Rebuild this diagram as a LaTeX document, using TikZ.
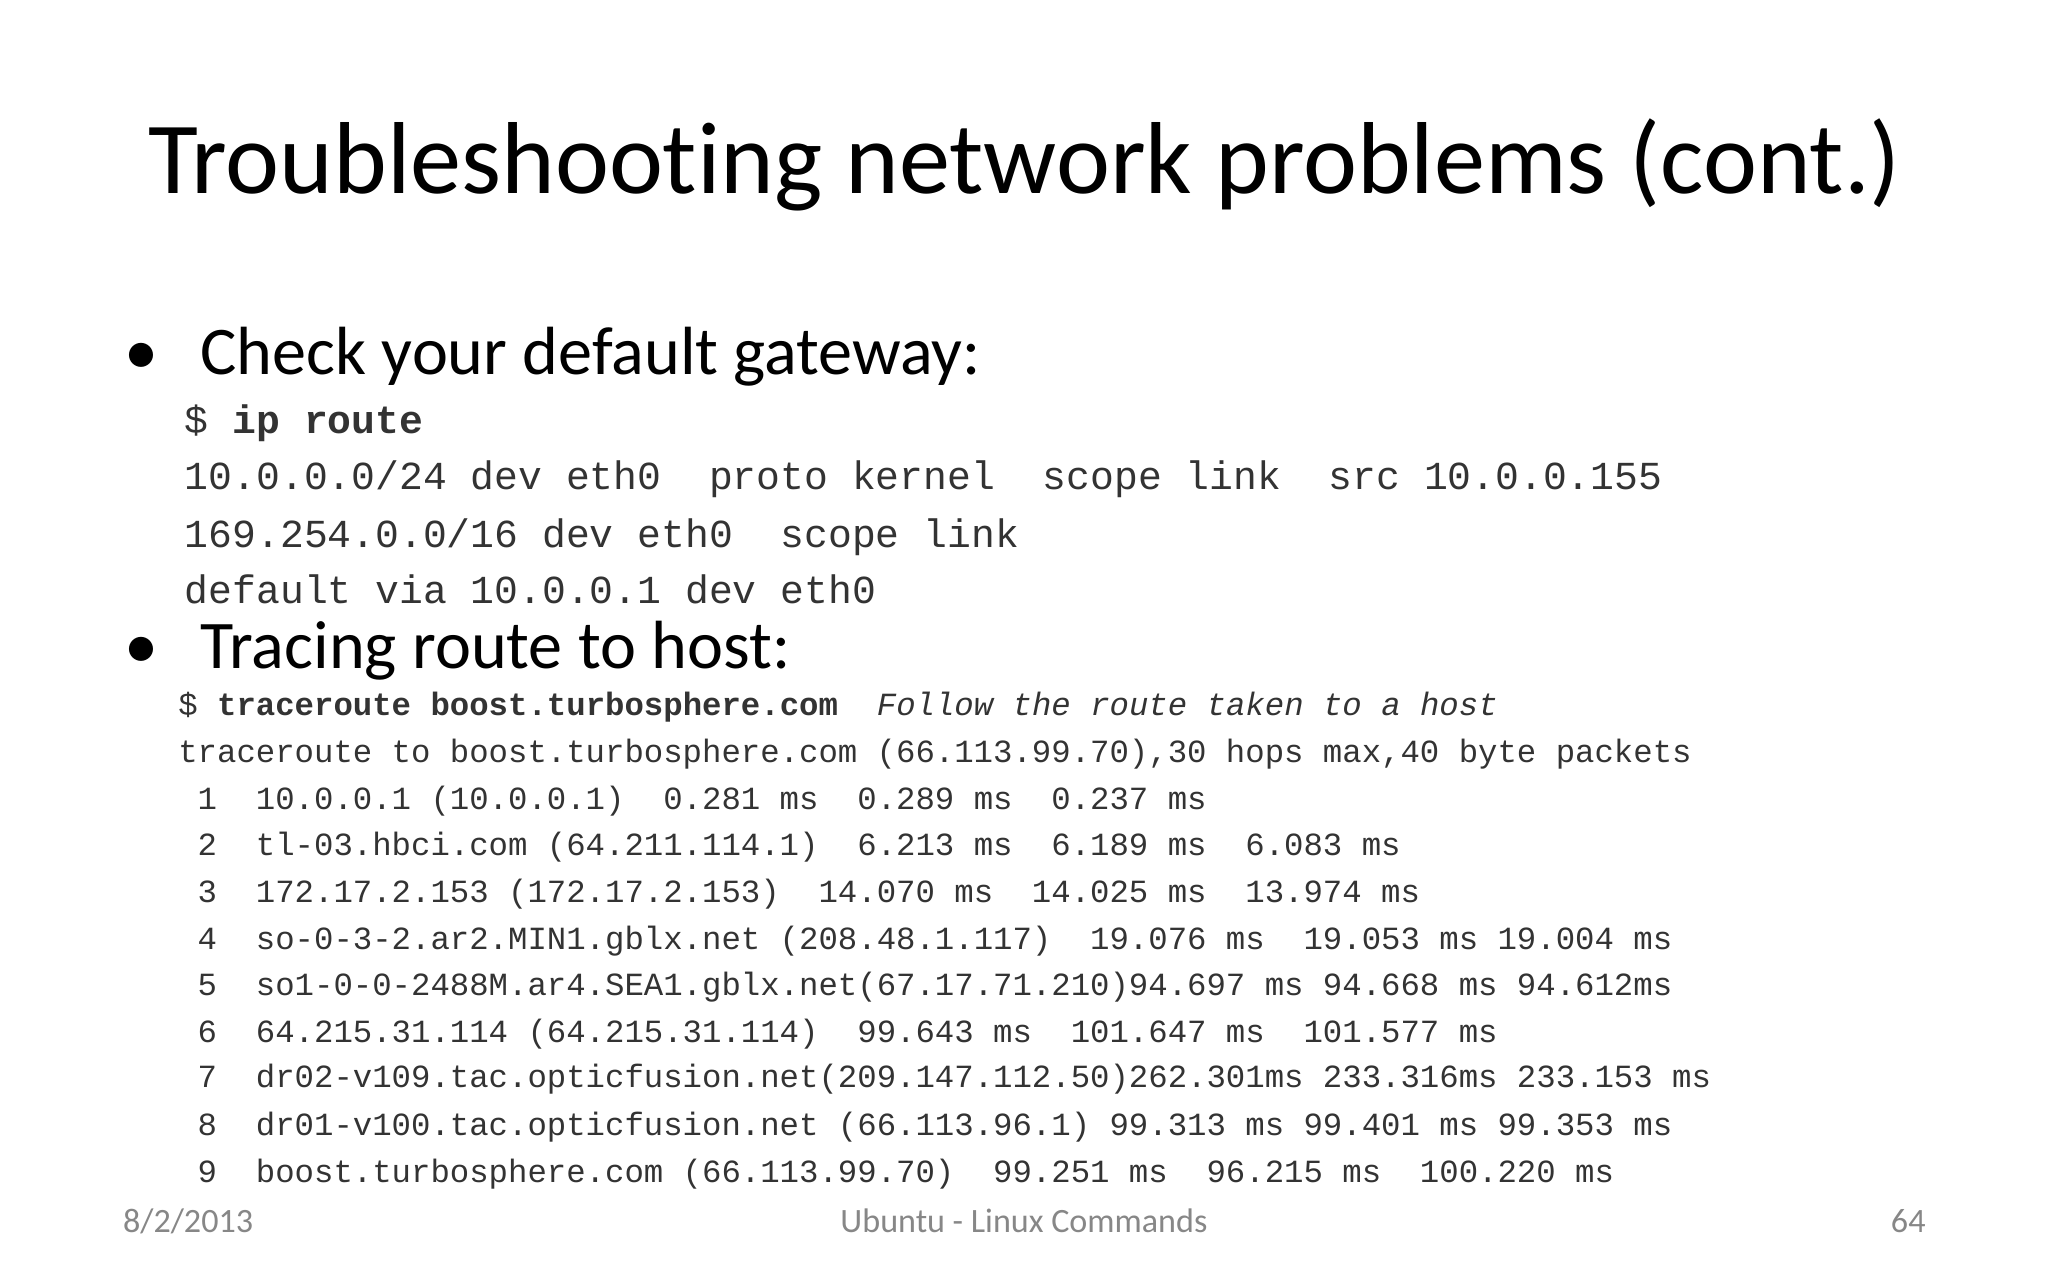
\documentclass[tikz,border=0pt]{standalone}
\usepackage{fontspec}
\setmainfont[Ligatures=NoCommon]{Carlito}
\setmonofont{Liberation Mono}
\begin{document}
\begin{tikzpicture}[x=0.013061cm,y=-0.013061cm,
  tl/.style={anchor=base west,inner sep=0pt},
  code/.style={tl,font=\ttfamily\fontsize{11.3}{12}\selectfont,text=black!80},
  tr/.style={tl,font=\ttfamily\fontsize{9.2}{10}\selectfont,text=black!80},
  bul/.style={tl,font=\fontsize{19.4}{21}\selectfont},
  foot/.style={inner sep=0pt,anchor=base,font=\fontsize{9.7}{12}\selectfont,text=black!47}]
\useasboundingbox[fill=white] (0,0) rectangle (1568,980);
\node[tl,font=\fontsize{29.1}{32}\selectfont] (title) at (113,148) {Troubleshooting network problems (cont.)};
\node[bul] (d1) at (95,287) {\textbullet};
\node[bul] (b1) at (153,287) {Check your default gateway:};
\node[code] (c0) at (141,332) {\$ \textbf{ip route}};
\node[code] (c1) at (141,375) {10.0.0.0/24 dev eth0~ proto kernel~ scope link~ src 10.0.0.155};
\node[code] (c2) at (141,419) {169.254.0.0/16 dev eth0~ scope link};
\node[code] (c3) at (141,462) {default via 10.0.0.1 dev eth0};
\node[bul] (d2) at (95,512) {\textbullet};
\node[bul] (b2) at (153,512) {Tracing route to host:};
\node[tr] (t0) at (136,548) {\$ \textbf{traceroute boost.turbosphere.com}~ \textit{Follow the route taken to a host}};
\node[tr] (t1) at (136,584) {traceroute to boost.turbosphere.com (66.113.99.70),30 hops max,40 byte packets};
\node[tr] (r1) at (136,620) {~1~~10.0.0.1 (10.0.0.1)~~0.281 ms~~0.289 ms~~0.237 ms};
\node[tr] (r2) at (136,655) {~2~~tl-03.hbci.com (64.211.114.1)~~6.213 ms~~6.189 ms~~6.083 ms};
\node[tr] (r3) at (136,691) {~3~~172.17.2.153 (172.17.2.153)~~14.070 ms~~14.025 ms~~13.974 ms};
\node[tr] (r4) at (136,727) {~4~~so-0-3-2.ar2.MIN1.gblx.net (208.48.1.117)~~19.076 ms~~19.053 ms 19.004 ms};
\node[tr] (r5) at (136,762) {~5~~so1-0-0-2488M.ar4.SEA1.gblx.net(67.17.71.210)94.697 ms 94.668 ms 94.612ms};
\node[tr] (r6) at (136,798) {~6~~64.215.31.114 (64.215.31.114)~~99.643 ms~~101.647 ms~~101.577 ms};
\node[tr] (r7) at (136,833) {~7~~dr02-v109.tac.opticfusion.net(209.147.112.50)262.301ms 233.316ms 233.153 ms};
\node[tr] (r8) at (136,869) {~8~~dr01-v100.tac.opticfusion.net (66.113.96.1) 99.313 ms 99.401 ms 99.353 ms};
\node[tr] (r9) at (136,905) {~9~~boost.turbosphere.com (66.113.99.70)~~99.251 ms~~96.215 ms~~100.220 ms};
\node[foot] (f1) at (144,944) {8/2/2013};
\node[foot] (f2) at (784,944) {Ubuntu - Linux Commands};
\node[foot] (f3) at (1461,944) {64};
\end{tikzpicture}
\end{document}
